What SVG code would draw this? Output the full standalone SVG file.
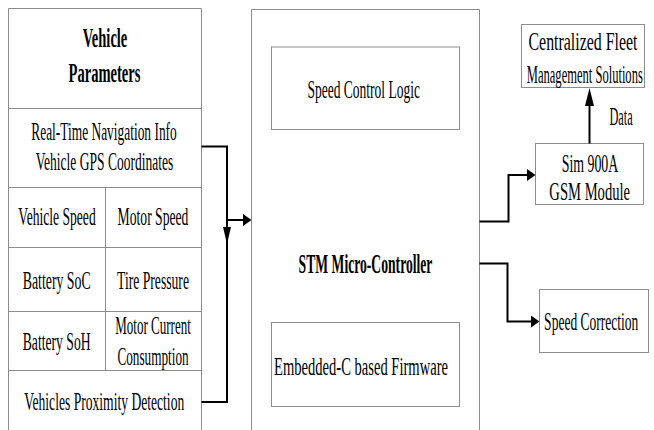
<svg xmlns="http://www.w3.org/2000/svg" width="654" height="430" viewBox="0 0 654 430">
<style>
.bx{fill:#fff;stroke:#8c8c8c;stroke-width:1}
.ln{fill:none;stroke:#8c8c8c;stroke-width:1}
.t{font-family:"Liberation Serif","Times New Roman",serif;font-size:25px;fill:#000;text-anchor:middle}
.b{font-family:"Liberation Serif","Times New Roman",serif;font-size:27px;font-weight:bold;fill:#000;text-anchor:middle}
.c{fill:none;stroke:#000;stroke-width:2}
.ah{fill:#000}
</style>
<rect width="654" height="430" fill="#fff"/>
<g id="vehicle-parameters">
<path class="ln" d="M8.5,430 V8.5 H201.5 V430"/>
<path class="ln" d="M8.5,108.5 H201.5 M8.5,187.5 H201.5 M8.5,247.5 H201.5 M8.5,311.5 H201.5 M8.5,370.5 H201.5 M105.5,187.5 V370.5"/>
<text class="b" transform="translate(105,46.5) scale(0.538,1)">Vehicle</text>
<text class="b" transform="translate(104.5,81.5) scale(0.539,1)">Parameters</text>
<text class="t" transform="translate(104,140) scale(0.537,1)">Real-Time Navigation Info</text>
<text class="t" transform="translate(104.5,170) scale(0.541,1)">Vehicle GPS Coordinates</text>
<text class="t" transform="translate(57,225) scale(0.544,1)">Vehicle Speed</text>
<text class="t" transform="translate(153,225) scale(0.546,1)">Motor Speed</text>
<text class="t" transform="translate(56.7,288.5) scale(0.553,1)">Battery SoC</text>
<text class="t" transform="translate(153,288.5) scale(0.547,1)">Tire Pressure</text>
<text class="t" transform="translate(56.7,349.5) scale(0.547,1)">Battery SoH</text>
<text class="t" transform="translate(153,333.5) scale(0.521,1)">Motor Current</text>
<text class="t" transform="translate(153,365) scale(0.529,1)">Consumption</text>
<text class="t" transform="translate(104.2,409.5) scale(0.544,1)">Vehicles Proximity Detection</text>
</g>
<g id="stm-controller">
<path class="ln" d="M251.5,430 V9.5 H479.5 V430"/>
<text class="b" transform="translate(365.5,272.5) scale(0.505,1)">STM Micro-Controller</text>
</g>
<g id="speed-control-logic">
<rect class="bx" x="271.5" y="47" width="188" height="82.5"/>
<text class="t" transform="translate(363.7,98) scale(0.541,1)">Speed Control Logic</text>
</g>
<g id="firmware">
<rect class="bx" x="271.5" y="322.5" width="188" height="84"/>
<text class="t" transform="translate(361,375) scale(0.583,1)">Embedded-C based Firmware</text>
</g>
<g id="fleet-management">
<rect class="bx" x="521.5" y="24.5" width="123" height="63"/>
<text class="t" transform="translate(583,50) scale(0.636,1)">Centralized Fleet</text>
<text class="t" transform="translate(584.8,83) scale(0.502,1)">Management Solutions</text>
</g>
<g id="gsm-module">
<rect class="bx" x="535.5" y="143.5" width="108" height="61"/>
<text class="t" transform="translate(590,171.5) scale(0.555,1)">Sim 900A</text>
<text class="t" transform="translate(589.7,200) scale(0.584,1)">GSM Module</text>
</g>
<g id="speed-correction">
<rect class="bx" x="539.5" y="289.5" width="109" height="63"/>
<text class="t" transform="translate(591.2,330) scale(0.541,1)">Speed Correction</text>
</g>
<g id="connectors">
<path class="c" d="M201.5,146.5 H227 V402 H201.5"/>
<polygon class="ah" points="223,227 231,227 227,244"/>
<path class="c" d="M227,220 H244"/>
<polygon class="ah" points="243,214 243,226 251.5,220"/>
<path class="c" d="M479.5,221.5 H508.5 V175 H528"/>
<polygon class="ah" points="527,169 527,181 535.5,175"/>
<path class="c" d="M479.5,263.5 H507.5 V321.5 H532"/>
<polygon class="ah" points="531,315.5 531,327.5 539.5,321.5"/>
<path class="c" d="M589.5,143.5 V105"/>
<polygon class="ah" points="585,106 594,106 589.5,88"/>
<text class="t" transform="translate(621,124.5) scale(0.493,1)">Data</text>
</g>
</svg>
